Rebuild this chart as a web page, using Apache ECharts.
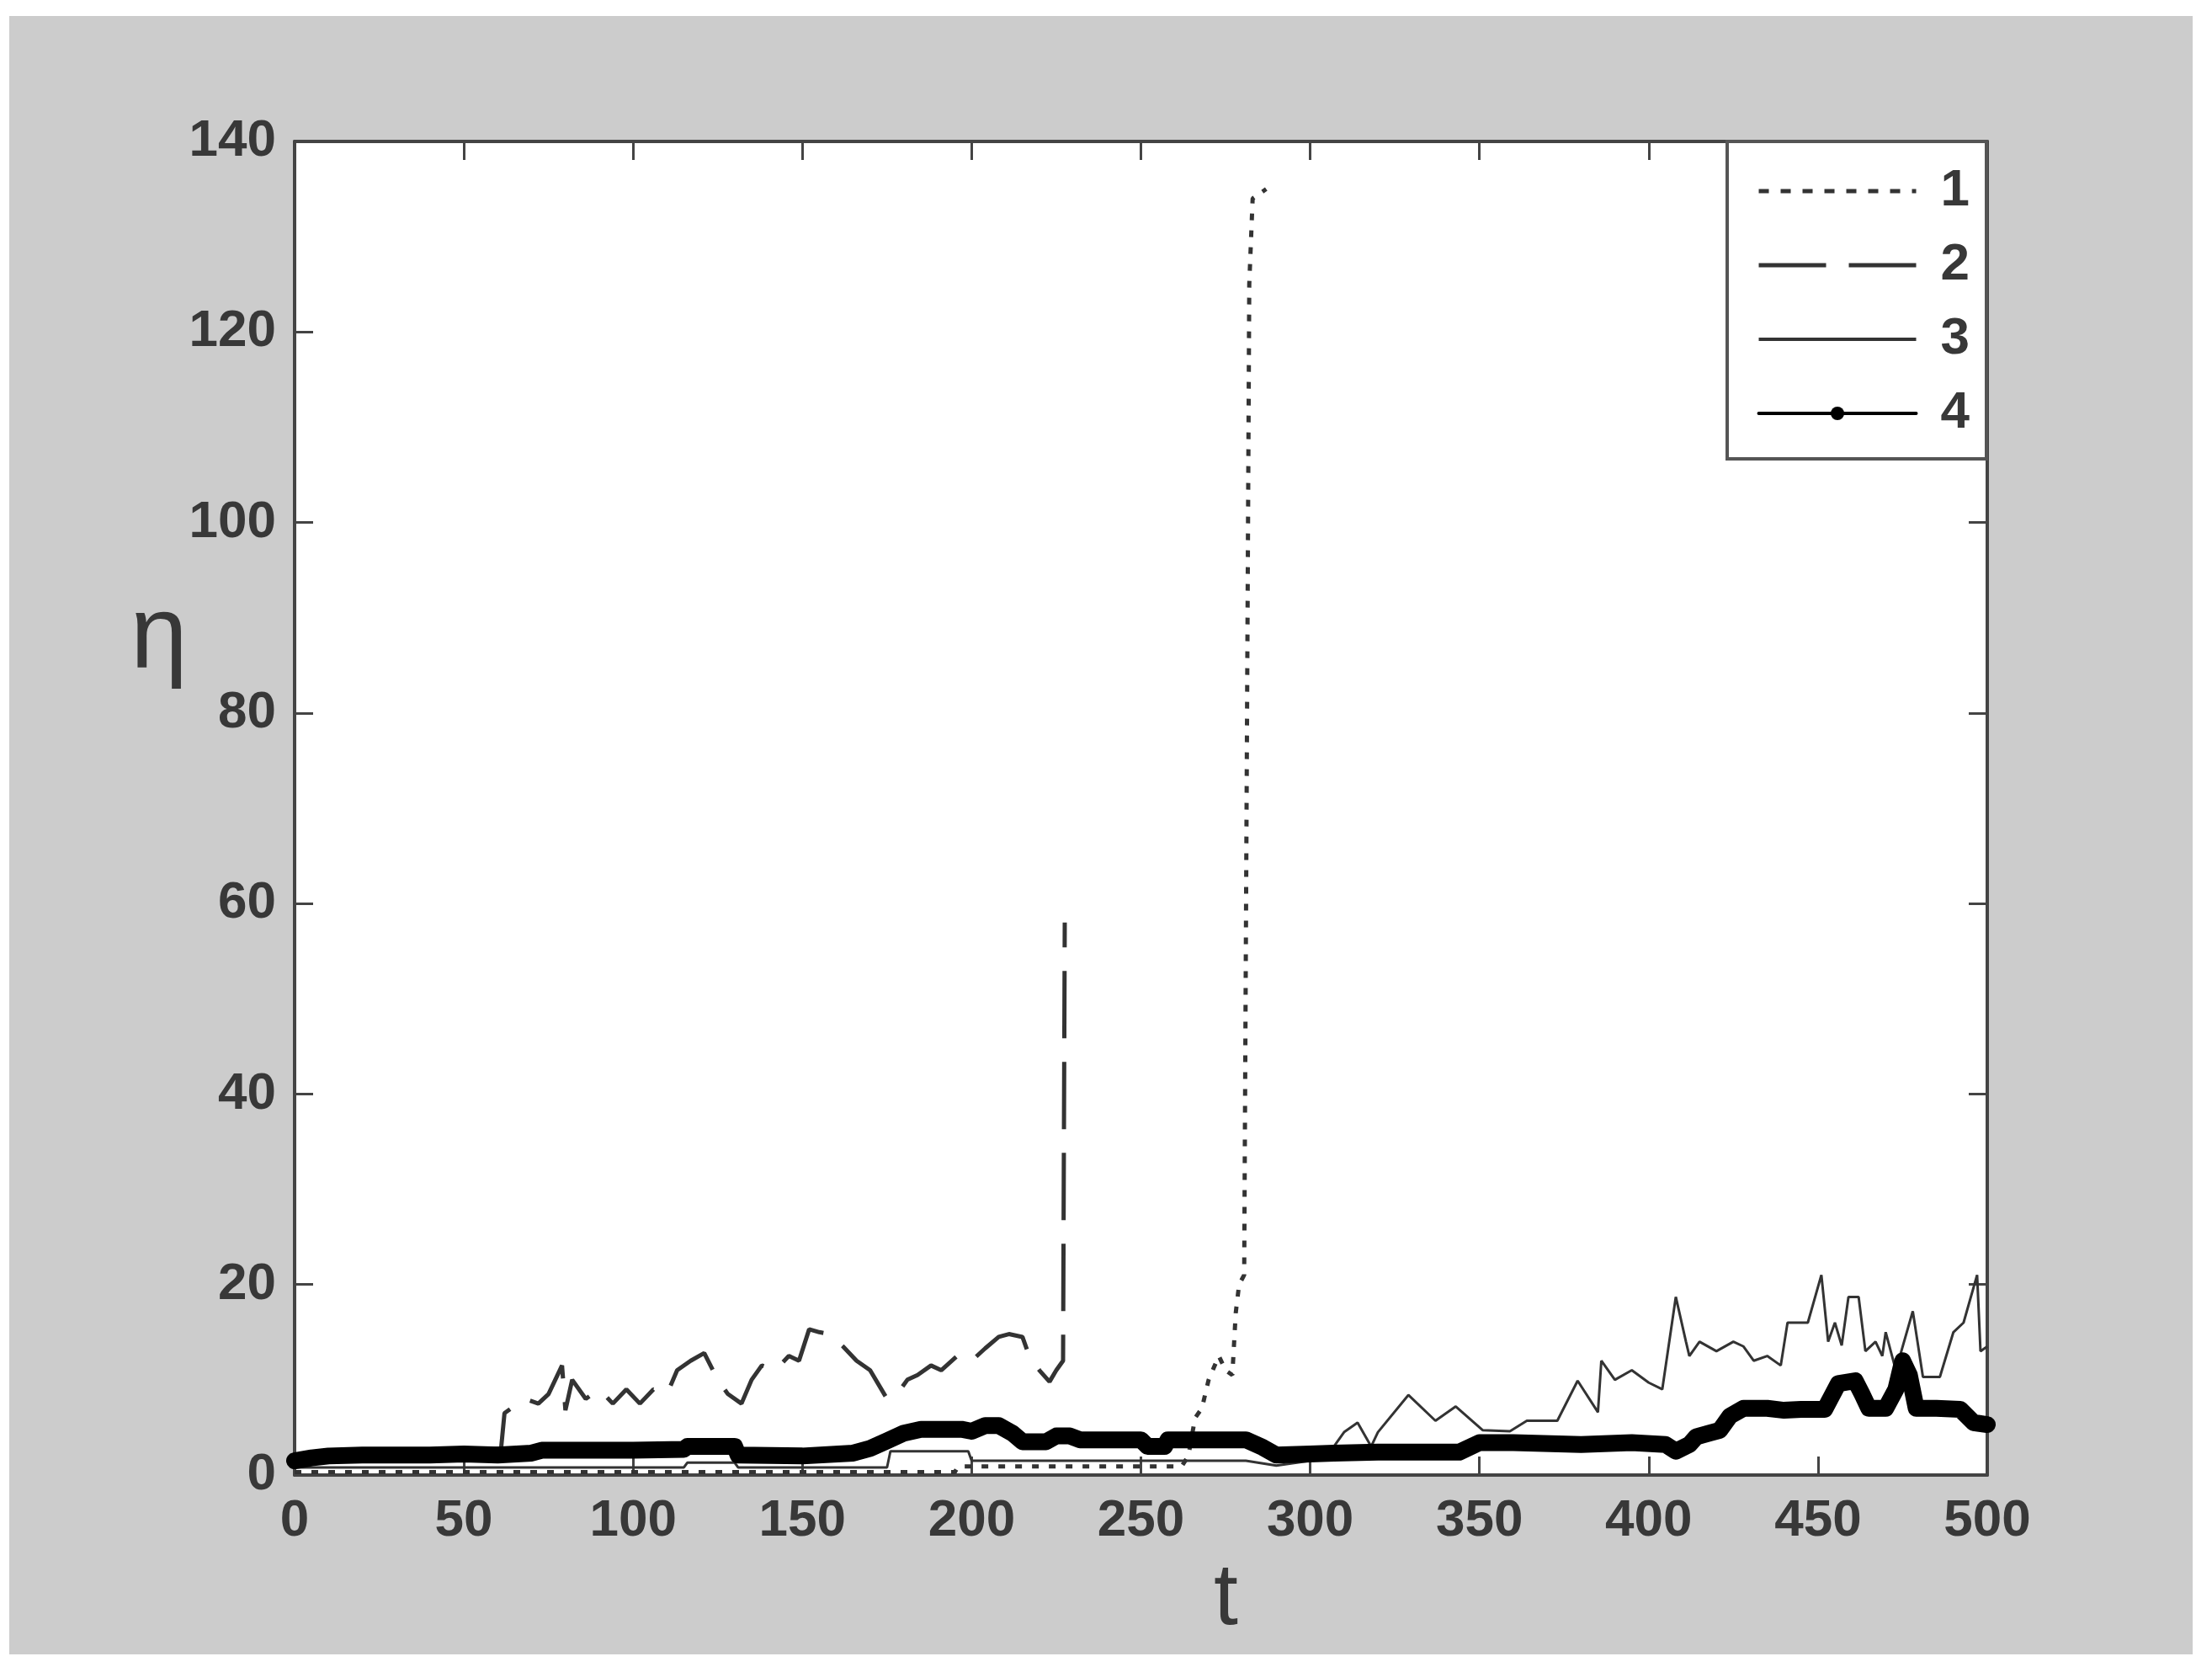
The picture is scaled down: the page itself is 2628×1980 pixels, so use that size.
<!doctype html>
<html>
<head>
  <meta charset="UTF-8" />
  <title>eta vs t</title>
  <script src="https://cdn.jsdelivr.net/npm/echarts@6/dist/echarts.min.js"></script>
  <style>
    html, body { margin: 0; padding: 0; background: #ffffff; }
    #bg { position: absolute; left: 11px; top: 19px; width: 2594px; height: 1946px; background: #cccccc; }
    #chart { position: absolute; left: 0; top: 0; width: 2628px; height: 1980px; }
  </style>
</head>
<body>
  <div id="bg"></div>
  <div id="chart"></div>
  <script>
    // curve 1 (dotted)
    const t1 = [0, 60, 120, 195, 196, 230, 262, 264, 266, 268, 270, 273, 275, 277, 278, 279, 280.5, 282, 283, 287];
    const eta1 = [0.3, 0.3, 0.3, 0.3, 0.9, 0.9, 0.9, 2, 6, 7, 10, 12.5, 11, 10.5, 17, 20, 21, 125, 134, 135];

    // curve 2 (dashed)
    const t2 = [0, 30, 61, 62, 64, 68, 72, 75, 77, 79, 80, 82, 86, 90, 94, 98, 102, 106, 110, 113, 117, 121, 125, 128, 132,
      135, 138, 142, 146, 149, 152, 155, 158, 162, 166, 170, 175, 178, 181, 184, 188, 191, 196, 200, 204, 208, 211, 215,
      217, 220, 223, 225, 227, 227.5];
    const eta2 = [1.8, 1.8, 2.8, 6.5, 7, 8, 7.5, 8.5, 10, 11.5, 6.8, 10, 8, 9, 7.5, 9, 7.5, 9, 8.5, 11, 12, 12.8, 10, 8.5, 7.5,
      10, 11.5, 11, 12.5, 12, 15.3, 15, 14.8, 13.5, 12, 11, 8, 8.5, 10, 10.5, 11.5, 11, 12.6, 12, 13.3, 14.5, 14.8, 14.5,
      12.5, 11, 9.8, 11, 12, 58];

    // curve 3 (thin solid)
    const t3 = [0, 60, 115, 116, 130, 131, 175, 176, 199, 200, 250, 281, 290, 300, 305, 310, 314, 318, 320, 329, 337, 343,
      351, 359, 364, 373, 379, 385, 386, 390, 395, 400, 404, 408, 411, 412, 415, 420, 425, 428, 431, 435, 439, 441, 447,
      451, 453, 455, 457, 459, 462, 464, 467, 469, 470, 473, 478, 481, 486, 490, 493, 497, 498, 500];
    const eta3 = [0.8, 0.8, 0.8, 1.3, 1.3, 0.8, 0.8, 2.5, 2.5, 1.5, 1.5, 1.5, 1.0, 1.5, 2.0, 4.5, 5.5, 3.0, 4.5, 8.4, 5.7, 7.2,
      4.7, 4.6, 5.7, 5.7, 9.9, 6.6, 12, 10, 11, 9.7, 9, 18.7, 14, 12.5, 14, 13, 14, 13.5, 12, 12.5, 11.5, 16, 16,
      21, 14, 16, 13.6, 18.7, 18.7, 13, 14, 12.5, 15, 11, 17.2, 10.3, 10.3, 15, 16, 21, 13, 13.5];

    // curve 4 (thick, dots)
    const t4 = [0, 5, 10, 20, 30, 40, 50, 60, 70, 73, 85, 100, 115, 116, 130, 131, 150, 165, 170, 175, 180, 185, 197, 200,
      204, 208, 212, 215, 222, 225, 229, 232, 250, 252, 257, 258, 270, 281, 286, 290, 300, 307, 320, 330, 344, 350, 360,
      380, 395, 405, 408, 412, 414, 418, 421, 424, 428, 435, 440, 445, 452, 456, 461, 463, 465, 470, 473, 475, 477, 479,
      485, 492, 496, 500];
    const eta4 = [1.5, 1.8, 2.0, 2.1, 2.1, 2.1, 2.2, 2.1, 2.3, 2.6, 2.6, 2.6, 2.7, 3.0, 3.0, 2.1, 2.0, 2.3, 2.8, 3.6, 4.4, 4.8,
      4.8, 4.6, 5.2, 5.2, 4.4, 3.5, 3.5, 4.1, 4.1, 3.7, 3.7, 3.0, 3.0, 3.7, 3.7, 3.7, 2.9, 2.1, 2.2, 2.3, 2.4, 2.4, 2.4,
      3.4, 3.4, 3.2, 3.4, 3.2, 2.5, 3.2, 4.0, 4.4, 4.7, 6.2, 7.0, 7.0, 6.8, 6.9, 6.9, 9.6, 9.9, 8.5, 7.0, 7.0, 9.0, 12.0,
      10.5, 7.0, 7.0, 6.9, 5.5, 5.3];

    const seriesNames = ["1", "2", "3", "4"];
    const xTicks = { min: 0, max: 500, interval: 50 };
    const yTicks = { min: 0, max: 140, interval: 20 };

    const pairs = (ts, vs) => ts.map((t, i) => [t, vs[i]]);

    const labelFont = "'Liberation Sans', Arial, sans-serif";
    const textColor = "#383838";
    const axisColor = "#444";

    const baseAxis = {
      type: "value",
      splitLine: { show: false },
      axisLine: { show: true, onZero: false, lineStyle: { color: axisColor, width: 4 } },
      axisTick: { show: true, inside: true, length: 22, lineStyle: { color: axisColor, width: 3 } },
    };
    const tickLabel = { fontSize: 62, fontWeight: "bold", color: textColor, fontFamily: labelFont };

    var chart = echarts.init(document.getElementById("chart"));

    chart.setOption({
      animation: false,
      backgroundColor: "transparent",
      grid: {
        left: 350,
        right: 267,
        top: 168,
        bottom: 228,
        show: true,
        backgroundColor: "#ffffff",
        borderWidth: 0,
      },
      legend: {
        orient: "vertical",
        right: 268,
        top: 168,
        padding: [28, 20, 23, 35],
        itemWidth: 187,
        itemHeight: 20,
        itemGap: 26,
        backgroundColor: "#ffffff",
        borderColor: "#555",
        borderWidth: 4,
        textStyle: Object.assign({}, tickLabel, { padding: [0, 0, 0, 24] }),
        data: [
          { name: "1", lineStyle: { width: 5, type: [12, 14] }, itemStyle: { opacity: 0 } },
          { name: "2", lineStyle: { width: 5, type: [80, 27] }, itemStyle: { opacity: 0 } },
          { name: "3", lineStyle: { width: 4 }, itemStyle: { opacity: 0 } },
          { name: "4", lineStyle: { width: 4 } },
        ],
      },
      graphic: [
        {
          type: "text",
          left: 155,
          top: 698,
          style: { text: "η", fontSize: 122, fill: textColor, fontFamily: labelFont },
        },
        {
          type: "text",
          left: 1442,
          top: 1848,
          style: { text: "t", fontSize: 104, fill: textColor, fontFamily: labelFont },
        },
      ],
      xAxis: [
        Object.assign({}, baseAxis, xTicks, {
          position: "bottom",
          axisLabel: Object.assign({}, tickLabel, { margin: 24 }),
        }),
        Object.assign({}, baseAxis, xTicks, { position: "top", axisLabel: { show: false } }),
      ],
      yAxis: [
        Object.assign({}, baseAxis, yTicks, {
          position: "left",
          axisLabel: Object.assign({}, tickLabel, { margin: 22 }),
        }),
        Object.assign({}, baseAxis, yTicks, { position: "right", axisLabel: { show: false } }),
      ],
      series: [
        {
          name: seriesNames[0],
          type: "line",
          data: pairs(t1, eta1),
          symbol: "none",
          lineStyle: { color: "#333", width: 5, type: [8, 12] },
          itemStyle: { color: "#333" },
          z: 2,
        },
        {
          name: seriesNames[1],
          type: "line",
          data: pairs(t2, eta2),
          symbol: "none",
          lineStyle: { color: "#333", width: 5, type: [80, 28] },
          itemStyle: { color: "#333" },
          z: 3,
        },
        {
          name: seriesNames[2],
          type: "line",
          data: pairs(t3, eta3),
          symbol: "none",
          lineStyle: { color: "#333", width: 3 },
          itemStyle: { color: "#333" },
          z: 4,
        },
        {
          name: seriesNames[3],
          type: "line",
          data: pairs(t4, eta4),
          symbol: "circle",
          symbolSize: 16,
          showSymbol: false,
          lineStyle: { color: "#000", width: 20, join: "round", cap: "round" },
          itemStyle: { color: "#000" },
          z: 5,
        },
      ],
    });
  </script>
</body>
</html>
